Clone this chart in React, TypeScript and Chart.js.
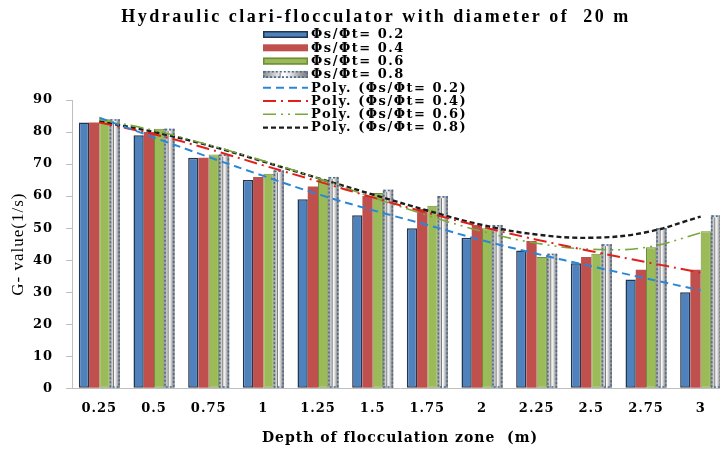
import React, { useEffect, useRef } from "react";
import { Chart, registerables } from "chart.js";

Chart.register(...registerables);

// ---- data ----
const categories = ["0.25", "0.5", "0.75", "1", "1.25", "1.5", "1.75", "2", "2.25", "2.5", "2.75", "3"];

const seriesLabels = ["Φs/Φt= 0.2", "Φs/Φt= 0.4", "Φs/Φt= 0.6", "Φs/Φt= 0.8"];
const trendLabels = ["Poly. (Φs/Φt= 0.2)", "Poly. (Φs/Φt= 0.4)", "Poly. (Φs/Φt= 0.6)", "Poly. (Φs/Φt= 0.8)"];

const g02 = [83, 79, 72, 65, 59, 54, 50, 47, 43, 39, 34, 30];
const g04 = [83, 80, 72, 66, 63, 60, 56, 51, 46, 41, 37, 37];
const g06 = [84, 81, 73, 67, 65, 61, 57, 50, 41, 42, 44, 49];
const g08 = [84, 81, 73, 68, 66, 62, 60, 51, 42, 45, 50, 54];

const trend02 = [84.5, 78.3, 72.2, 66.3, 60.6, 55.6, 51.0, 46.2, 42.0, 38.1, 34.3, 30.6];
const trend04 = [83.0, 79.3, 74.7, 69.6, 64.6, 59.6, 54.8, 50.4, 46.4, 42.8, 39.4, 36.1];
const trend06 = [84.0, 80.5, 76.0, 71.0, 65.6, 59.6, 54.0, 49.0, 45.3, 43.4, 44.0, 48.5];
const trend08 = [83.3, 80.0, 75.8, 70.8, 65.6, 60.5, 55.5, 51.0, 48.0, 47.0, 48.7, 53.6];

const yTicks = [0, 10, 20, 30, 40, 50, 60, 70, 80, 90];

const titleText = "Hydraulic clari-flocculator with diameter of  20 m";
const xTitle = "Depth of flocculation zone  (m)";
const yTitle = "G- value(1/s)";

// ---- styling ----
const CANVAS_W = 780;
const CANVAS_H = 450;
const AXIS_COLOR = "#bfbfbf";
const TICK_FONT = { family: "'DejaVu Serif', serif", size: 13, weight: "bold" as const };

const barStyles = [
  { bg: "#4f81bd", border: "#22364f", bw: 1.5 },
  { bg: "#c0504d", border: "#c0504d", bw: 0 },
  { bg: "#9bbb59", border: "#6f8c3a", bw: 1 },
  { bg: "#c8c8c8", border: "#4d6a8f", bw: 0 },
];
const lineStyles = [
  { color: "#2a86d6", dash: [8, 5], width: 2 },
  { color: "#e0201c", dash: [13, 5, 2, 5], width: 2 },
  { color: "#7aa63c", dash: [13, 5, 2, 5, 2, 5], width: 1.6 },
  { color: "#1c1c1c", dash: [5, 3], width: 2.4 },
];

function paintGrayBar(ctx: CanvasRenderingContext2D, l: number, top: number, w: number, h: number) {
  const g = ctx.createLinearGradient(l, 0, l + w, 0);
  g.addColorStop(0, "#8f8f8f");
  g.addColorStop(0.3, "#d9d9d9");
  g.addColorStop(0.45, "#ffffff");
  g.addColorStop(0.6, "#e6e6e6");
  g.addColorStop(0.8, "#a8a8a8");
  g.addColorStop(1, "#7c7c7c");
  ctx.fillStyle = g;
  ctx.fillRect(l, top, w, h);
  ctx.strokeStyle = "#5a5a5a";
  ctx.lineWidth = 0.8;
  ctx.setLineDash([]);
  ctx.beginPath();
  ctx.moveTo(l + w * 0.38, top + 2);
  ctx.lineTo(l + w * 0.38, top + h);
  ctx.stroke();
  ctx.strokeStyle = "#4d6a8f";
  ctx.lineWidth = 1.6;
  ctx.setLineDash([2, 2]);
  ctx.strokeRect(l + 0.8, top + 0.8, w - 1.6, h - 1.6);
  ctx.setLineDash([]);
}

const spacingPlugin = {
  id: "letterSpacing",
  beforeDraw(chart: any) {
    (chart.ctx as any).letterSpacing = "1px";
  },
};

const grayBarPlugin = {
  id: "grayBars",
  afterDatasetDraw(chart: any, args: any) {
    if (args.index !== 3) return;
    const ctx: CanvasRenderingContext2D = chart.ctx;
    ctx.save();
    args.meta.data.forEach((el: any) => {
      const { x, y, base, width } = el.getProps(["x", "y", "base", "width"], true);
      paintGrayBar(ctx, x - width / 2, y, width, base - y);
    });
    ctx.restore();
  },
};

const titleLegendPlugin = {
  id: "titleLegend",
  afterDraw(chart: any) {
    const ctx: CanvasRenderingContext2D = chart.ctx;
    ctx.save();
    // title
    (ctx as any).letterSpacing = "2.5px";
    ctx.font = "bold 18px 'Liberation Serif', serif";
    ctx.fillStyle = "#000";
    ctx.textAlign = "center";
    ctx.textBaseline = "middle";
    ctx.fillText(titleText, 376, 17);

    // legend
    const x0 = 263;
    const x1 = 308;
    const tx = 311;
    const top = 34.5;
    const step = 13.3;
    (ctx as any).letterSpacing = "1.5px";
    ctx.font = "bold 13px 'DejaVu Serif', serif";
    ctx.textAlign = "left";
    chart.data.datasets.forEach((d: any, i: number) => {
      const cy = top + i * step;
      if (d.type === "line") {
        ctx.strokeStyle = d.borderColor;
        ctx.lineWidth = d.borderWidth;
        ctx.setLineDash(d.borderDash);
        ctx.beginPath();
        ctx.moveTo(x0, cy);
        ctx.lineTo(x1, cy);
        ctx.stroke();
        ctx.setLineDash([]);
      } else if (i === 3) {
        paintGrayBar(ctx, x0, cy - 3.5, x1 - x0, 7);
      } else {
        ctx.fillStyle = d.backgroundColor;
        ctx.fillRect(x0, cy - 3.5, x1 - x0, 7);
        if (d.borderWidth > 0) {
          ctx.strokeStyle = d.borderColor;
          ctx.lineWidth = 1.5;
          ctx.strokeRect(x0 + 0.75, cy - 2.75, x1 - x0 - 1.5, 5.5);
        }
      }
      ctx.fillStyle = "#000";
      ctx.fillText(d.label, tx, cy + 0.5);
    });
    ctx.restore();
  },
};

export default function App() {
  const ref = useRef<HTMLCanvasElement | null>(null);

  useEffect(() => {
    if (!ref.current) return;
    const bars = [g02, g04, g06, g08].map((vals, i) => ({
      type: "bar" as const,
      label: seriesLabels[i],
      data: vals,
      backgroundColor: barStyles[i].bg,
      borderColor: barStyles[i].border,
      borderWidth: barStyles[i].bw,
      borderSkipped: false as const,
      categoryPercentage: 0.75,
      barPercentage: 1.0,
      order: 1,
    }));
    const lines = [trend02, trend04, trend06, trend08].map((vals, i) => ({
      type: "line" as const,
      label: trendLabels[i],
      data: vals,
      borderColor: lineStyles[i].color,
      backgroundColor: lineStyles[i].color,
      borderWidth: lineStyles[i].width,
      borderDash: lineStyles[i].dash,
      pointRadius: 0,
      tension: 0.4,
      fill: false,
      order: 0,
    }));

    const chart = new Chart(ref.current, {
      type: "bar",
      data: { labels: categories, datasets: [...bars, ...lines] as any },
      plugins: [spacingPlugin, grayBarPlugin, titleLegendPlugin],
      options: {
        animation: false,
        responsive: false,
        devicePixelRatio: 1,
        layout: { padding: { top: 100, left: 0, right: 52, bottom: 0 } },
        plugins: {
          legend: { display: false },
          title: { display: false },
          tooltip: { enabled: false },
        },
        scales: {
          x: {
            offset: true,
            grid: { display: false, drawTicks: false },
            border: { display: true, color: AXIS_COLOR, width: 1 },
            ticks: { color: "#000", font: TICK_FONT, padding: 13, maxRotation: 0, autoSkip: false },
            title: {
              display: true,
              text: xTitle,
              color: "#000",
              font: { family: "'DejaVu Serif', serif", size: 14, weight: "bold" },
              padding: { top: 0, bottom: 3 },
            },
            afterFit: (scale: any) => {
              scale.height = 61.7;
            },
          },
          y: {
            min: 0,
            max: 90,
            afterBuildTicks: (scale: any) => {
              scale.ticks = yTicks.map((v) => ({ value: v }));
            },
            grid: { display: true, drawOnChartArea: false, drawTicks: true, tickLength: 6, color: AXIS_COLOR },
            border: { display: true, color: AXIS_COLOR, width: 1 },
            ticks: { color: "#000", font: TICK_FONT, padding: 13 },
            title: {
              display: true,
              text: yTitle,
              color: "#000",
              font: { family: "'Liberation Serif', serif", size: 17, weight: "normal" },
              padding: { top: 8, bottom: 0 },
            },
            afterFit: (scale: any) => {
              scale.width = 72;
            },
          },
        },
      },
    });
    return () => chart.destroy();
  }, []);

  return (
    <div style={{ position: "absolute", left: 0, top: 0, width: 720, height: 450, overflow: "hidden", background: "#fff" }}>
      <canvas ref={ref} width={CANVAS_W} height={CANVAS_H} style={{ width: CANVAS_W, height: CANVAS_H, display: "block" }} />
    </div>
  );
}
